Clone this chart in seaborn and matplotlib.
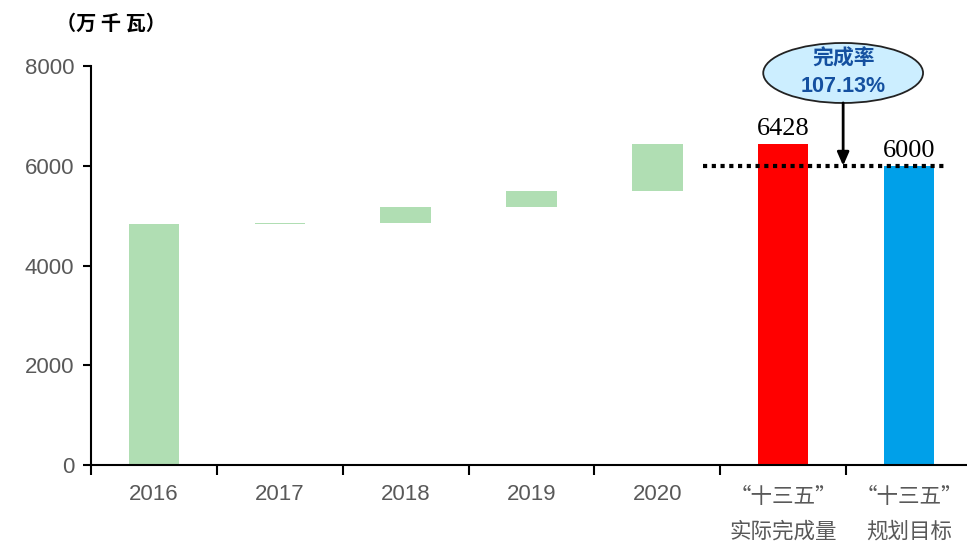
import matplotlib
matplotlib.use("Agg")
import matplotlib.pyplot as plt
from matplotlib.patches import Ellipse
import seaborn as sns
import pandas as pd

# ---- data ----
categories = ["2016", "2017", "2018", "2019", "2020", "actual", "target"]
tick_labels = ["2016", "2017", "2018", "2019", "2020",
               "“十三五”\n实际完成量", "“十三五”\n规划目标"]
cumulative = [4830, 4845, 5175, 5500, 6428]   # running total at end of each year
actual_total = 6428
target_total = 6000
unit_label = "（万 千 瓦）"

bottoms = [0] + cumulative[:-1] + [0, 0]
tops = cumulative + [actual_total, target_total]
heights = [t - b for t, b in zip(tops, bottoms)]
colors = ["#B0DEB3"] * 5 + ["#FF0000", "#00A0E9"]

df = pd.DataFrame({"category": categories, "height": heights})

sns.set_style("white")
plt.rcParams["font.family"] = ["Liberation Sans", "Noto Sans CJK SC", "DejaVu Sans"]

fig = plt.figure(figsize=(9.67, 5.43), dpi=100)
W, H = 967, 543
x_left, x_right = 91, 967
y_top, y_bot = 66, 465
ax = fig.add_axes([x_left / W, (H - y_bot) / H, (x_right - x_left) / W, (y_bot - y_top) / H])

sns.barplot(data=df, x="category", y="height", bottom=bottoms, width=0.4,
            color="#B0DEB3", saturation=1, ax=ax, errorbar=None)
for patch, c in zip(ax.patches, colors):
    patch.set_facecolor(c)
    patch.set_edgecolor("none")

ax.set_xlim(-0.5, 6.5 - 5 / 126)
ax.set_ylim(0, 8000)
ax.set_xlabel("")
ax.set_ylabel("")

# spines
for s in ["top", "right"]:
    ax.spines[s].set_visible(False)
for s in ["left", "bottom"]:
    ax.spines[s].set_color("black")
    ax.spines[s].set_linewidth(1.5)

# y ticks
ax.set_yticks([0, 2000, 4000, 6000, 8000])
ax.tick_params(axis="y", direction="out", length=6, width=1.5, color="black",
               labelsize=16, labelcolor="#595959", left=True, pad=6)

# x ticks: marks at boundaries, labels at centers
ax.set_xticks([i - 0.5 for i in range(7)])
ax.set_xticklabels([""] * 7)
ax.tick_params(axis="x", which="major", direction="out", length=7, width=1.5,
               color="black", bottom=True)
ax.set_xticks(range(7), minor=True)
ax.set_xticklabels(tick_labels[:5] + [""] * 2, minor=True)
ax.tick_params(axis="x", which="minor", length=0, labelsize=16,
               labelcolor="#595959", pad=14)
for i in (5, 6):
    ax.text(i, -0.052, tick_labels[i], transform=ax.get_xaxis_transform(),
            ha="center", va="top", fontsize=15.5, color="#595959",
            family=["Noto Sans CJK SC"], linespacing=1.75)

# value labels
ax.text(5, actual_total + 80, f"{actual_total}", ha="center", va="bottom",
        fontsize=19, family="Liberation Serif", color="black")
ax.text(6, target_total + 80, f"{target_total}", ha="center", va="bottom",
        fontsize=19, family="Liberation Serif", color="black")

# dotted target line
ax.plot([4.36, 6.29], [target_total, target_total], color="black",
        linestyle=(0, (1, 1.1)), linewidth=3, clip_on=False, zorder=3)

# callout
ex = 5.5 - 3 / 126
ell = Ellipse((ex, 7860), width=160 / 126, height=60 * 20.05,
              facecolor="#CCEEFF", edgecolor="#222222", linewidth=1.3,
              clip_on=False, zorder=4)
ax.add_patch(ell)
ax.text(ex, 8160, "完成率", ha="center", va="center", fontsize=15,
        fontweight="bold", color="#1450A0", family=["Noto Sans CJK SC"], zorder=5)
ax.text(ex, 7590, "107.13%", ha="center", va="center", fontsize=15.5,
        fontweight="bold", color="#1450A0", family=["Liberation Sans"], zorder=5)
ax.annotate("", xy=(ex, target_total), xytext=(ex, 7260),
            arrowprops=dict(arrowstyle="-|>,head_length=0.8,head_width=0.35",
                            color="black", lw=2, shrinkA=0, shrinkB=0),
            zorder=5, annotation_clip=False)

# unit label
fig.text(56 / W, 1 - 23 / H, unit_label, ha="left", va="center", fontsize=14.5,
         fontweight="bold", color="black", family=["Noto Sans CJK SC"])

fig.savefig("out.png", dpi=100)
